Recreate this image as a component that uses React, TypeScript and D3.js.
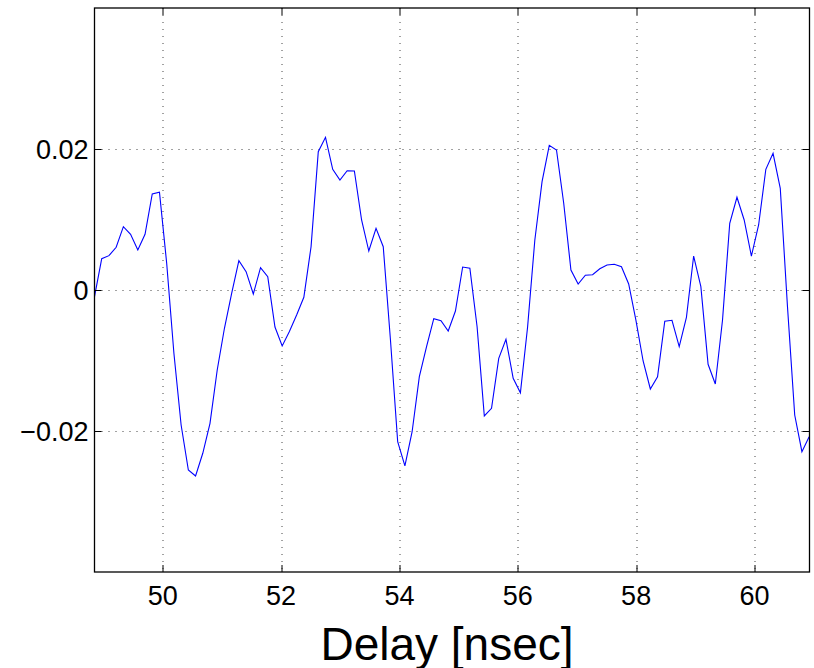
import React, { useEffect, useRef } from 'react';
import * as d3 from 'd3';

// delay axis samples [nsec] and measured response
const delays = [
  48.846, 48.968, 49.090, 49.212, 49.334, 49.456, 49.578, 49.700, 49.822, 49.944,
  50.066, 50.188, 50.310, 50.432, 50.554, 50.676, 50.798, 50.920, 51.042, 51.164,
  51.286, 51.408, 51.530, 51.652, 51.774, 51.896, 52.018, 52.140, 52.262, 52.384,
  52.506, 52.628, 52.750, 52.872, 52.994, 53.116, 53.238, 53.360, 53.482, 53.604,
  53.726, 53.848, 53.970, 54.092, 54.214, 54.336, 54.458, 54.580, 54.702, 54.824,
  54.946, 55.068, 55.190, 55.312, 55.434, 55.556, 55.678, 55.800, 55.922, 56.044,
  56.166, 56.288, 56.410, 56.532, 56.654, 56.776, 56.898, 57.020, 57.142, 57.264,
  57.386, 57.508, 57.630, 57.752, 57.874, 57.996, 58.118, 58.240, 58.362, 58.484,
  58.606, 58.728, 58.850, 58.972, 59.094, 59.216, 59.338, 59.460, 59.582, 59.704,
  59.826, 59.948, 60.070, 60.192, 60.314, 60.436, 60.558, 60.680, 60.802, 60.924,
];

const values = [
  -0.00095, 0.00444, 0.00487, 0.00606, 0.00898, 0.0079, 0.00567, 0.0079, 0.01362, 0.01386,
  0.00379, -0.00898, -0.01915, -0.02553, -0.02638, -0.02316, -0.01891, -0.01135, -0.00543, -0.00047,
  0.00416, 0.0026, -0.00057, 0.00316, 0.00189, -0.00525, -0.00794, -0.00589, -0.00355, -0.00104,
  0.00614, 0.01962, 0.02166, 0.01712, 0.0156, 0.01692, 0.01688, 0.00993, 0.00553, 0.00875,
  0.00614, -0.00709, -0.02152, -0.02496, -0.0201, -0.0123, -0.00804, -0.00407, -0.00435, -0.00582,
  -0.00298, 0.00326, 0.00309, -0.00521, -0.01787, -0.01678, -0.00969, -0.00699, -0.01252, -0.01457,
  -0.00521, 0.00709, 0.01536, 0.02052, 0.01986, 0.0123, 0.00284, 0.00085, 0.00209, 0.00217,
  0.00302, 0.00355, 0.00365, 0.00331, 0.00085, -0.00426, -0.01007, -0.01404, -0.0123, -0.00444,
  -0.0043, -0.00804, -0.00387, 0.00482, 0.00047, -0.01054, -0.01333, -0.00426, 0.00946, 0.01315,
  0.00993, 0.00482, 0.00922, 0.01712, 0.01939, 0.01443, -0.00237, -0.01773, -0.02294, -0.02081,
];

const xTicks = [50, 52, 54, 56, 58, 60];
const yTicks = [-0.02, 0, 0.02];
const xLabel = 'Delay [nsec]';

const App = () => {
  const svgRef = useRef(null);

  useEffect(() => {
    const width = 814;
    const height = 668;
    const margin = { top: 8, right: 4.5, bottom: 96, left: 94.5 };
    const w = width - margin.left - margin.right;
    const h = height - margin.top - margin.bottom;
    const font = '"Liberation Sans", Arial, Helvetica, sans-serif';

    const svg = d3.select(svgRef.current);
    svg.selectAll('*').remove();

    const x = d3.scaleLinear().domain([48.846, 60.93]).range([0, w]);
    const y = d3.scaleLinear().domain([-0.04, 0.04]).range([h, 0]);

    const g = svg.append('g')
      .attr('transform', `translate(${margin.left},${margin.top})`);

    g.append('rect')
      .attr('width', w).attr('height', h)
      .attr('fill', '#fff');

    // dotted grid
    g.selectAll('.vgrid')
      .data(xTicks)
      .enter()
      .append('line')
      .attr('x1', d => Math.round(x(d)) + 0.5)
      .attr('x2', d => Math.round(x(d)) + 0.5)
      .attr('y1', 0).attr('y2', h)
      .attr('stroke', '#444')
      .attr('stroke-width', 1)
      .attr('stroke-dasharray', '1,6');

    g.selectAll('.hgrid')
      .data(yTicks)
      .enter()
      .append('line')
      .attr('x1', 0).attr('x2', w)
      .attr('y1', d => Math.round(y(d)) + 0.5)
      .attr('y2', d => Math.round(y(d)) + 0.5)
      .attr('stroke', '#444')
      .attr('stroke-width', 1)
      .attr('stroke-dasharray', '1,6');

    // data line
    const line = d3.line<number>()
      .x((d, i) => x(delays[i]))
      .y(d => y(d));

    g.append('path')
      .datum(values)
      .attr('d', line)
      .attr('fill', 'none')
      .attr('stroke', '#0000ff')
      .attr('stroke-width', 1.1);

    // inward ticks on all four sides
    const tl = 7;
    xTicks.forEach(t => {
      const px = Math.round(x(t)) + 0.5;
      g.append('line').attr('x1', px).attr('x2', px).attr('y1', h).attr('y2', h - tl)
        .attr('stroke', '#000');
      g.append('line').attr('x1', px).attr('x2', px).attr('y1', 0).attr('y2', tl)
        .attr('stroke', '#000');
    });
    yTicks.forEach(t => {
      const py = Math.round(y(t)) + 0.5;
      g.append('line').attr('x1', 0).attr('x2', tl).attr('y1', py).attr('y2', py)
        .attr('stroke', '#000');
      g.append('line').attr('x1', w).attr('x2', w - tl).attr('y1', py).attr('y2', py)
        .attr('stroke', '#000');
    });

    // frame
    g.append('rect')
      .attr('width', w).attr('height', h)
      .attr('fill', 'none')
      .attr('stroke', '#000')
      .attr('stroke-width', 1.3);

    // tick labels
    g.selectAll('.xlab')
      .data(xTicks)
      .enter()
      .append('text')
      .attr('x', d => x(d))
      .attr('y', h + 33)
      .attr('text-anchor', 'middle')
      .attr('font-family', font)
      .attr('font-size', 27)
      .text(d => d3.format('d')(d));

    g.selectAll('.ylab')
      .data(yTicks)
      .enter()
      .append('text')
      .attr('x', -6)
      .attr('y', d => y(d) + 10)
      .attr('text-anchor', 'end')
      .attr('font-family', font)
      .attr('font-size', 27)
      .text(d => (d === 0 ? '0' : d3.format('.2f')(d).replace('-', '\u2212')));

    svg.append('text')
      .attr('x', 447)
      .attr('y', 660)
      .attr('text-anchor', 'middle')
      .attr('font-family', font)
      .attr('font-size', 46)
      .text(xLabel);
  }, []);

  return (
    <svg
      ref={svgRef}
      width={814}
      height={668}
      style={{ position: 'absolute', left: 0, top: 0, background: '#fff' }}
    />
  );
};

export default App;
